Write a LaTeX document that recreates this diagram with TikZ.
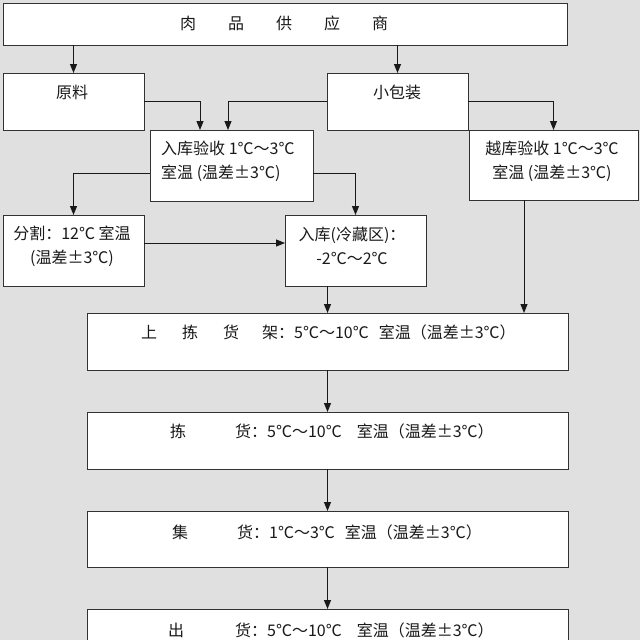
\documentclass[tikz,border=0pt]{standalone}
\usepackage{fontspec}
\setmainfont{Noto Sans CJK SC}
\usetikzlibrary{arrows.meta,calc}
\definecolor{bgc}{RGB}{224,224,224}
\definecolor{boxc}{RGB}{50,50,50}
\definecolor{linec}{RGB}{25,25,25}
\begin{document}
\begin{tikzpicture}[x=1pt,y=-1pt,
  box/.style={draw=boxc, line width=1pt, fill=white, anchor=north west, inner sep=0pt, outer sep=0pt},
  txt/.style={font=\fontsize{16}{24}\selectfont, inner sep=0pt, text=black!90},
  arr/.style={draw=linec, line width=0.9pt, -{Triangle[length=9pt,width=7pt]}}]
\useasboundingbox (0,0) rectangle (640,640);
\clip (0,0) rectangle (640,640);
\fill[bgc] (0,0) rectangle (640,640);
% boxes
\node[box, minimum width=564pt, minimum height=42pt] (top) at (3,3) {};
\node[box, minimum width=141pt, minimum height=57pt] (yl) at (3,73) {};
\node[box, minimum width=141pt, minimum height=57pt] (xbz) at (327,73) {};
\node[box, minimum width=163pt, minimum height=71pt] (rkys) at (150,130) {};
\node[box, minimum width=169pt, minimum height=70pt] (ykys) at (469,130) {};
\node[box, minimum width=141pt, minimum height=71pt] (fg) at (3,215) {};
\node[box, minimum width=141pt, minimum height=71pt] (rkc) at (285,215) {};
\node[box, minimum width=481pt, minimum height=57pt] (sj) at (87,313) {};
\node[box, minimum width=481pt, minimum height=57pt] (jh) at (87,412) {};
\node[box, minimum width=481pt, minimum height=56pt] (jih) at (87,511) {};
\node[box, minimum width=481pt, minimum height=57pt] (ch) at (87,609) {};
% texts
\node[txt] (t0) at (284,23) {肉\hspace{32pt}品\hspace{32pt}供\hspace{32pt}应\hspace{32pt}商};
\node[txt] (t1) at (72,92) {原料};
\node[txt] (t2) at (397,92) {小包装};
\node[txt, anchor=west, align=left] (t3) at (161,161) {入库验收 1℃～3℃\\室温 (温差±3℃)};
\node[txt, align=center] (t4) at (552,161) {越库验收 1℃～3℃\\室温 (温差±3℃)};
\node[txt, align=center] (t5) at (72,246) {分割：12℃ 室温\\(温差±3℃)};
\node[txt, align=center] (t6) at (352,246) {入库(冷藏区)：\\-2℃～2℃};
\node[txt, anchor=west] (t7) at (141,332) {上\hspace{25pt}拣\hspace{25pt}货\hspace{23pt}架：5℃～10℃\hspace{10pt}室温（温差±3℃）};
\node[txt, anchor=west] (t8) at (170,431) {拣\hspace{49pt}货：5℃～10℃\hspace{15pt}室温（温差±3℃）};
\node[txt, anchor=west] (t9) at (172,532) {集\hspace{49pt}货：1℃～3℃\hspace{10pt}室温（温差±3℃）};
\node[txt, anchor=west] (t10) at (168,630) {出\hspace{51pt}货：5℃～10℃\hspace{15pt}室温（温差±3℃）};
% connectors
\draw[arr] (top.south -| yl.north) -- (yl.north);
\draw[arr] (top.south -| xbz.north) -- (xbz.north);
\draw[arr] (yl.east) -| ($(rkys.north)+(-31.5,0)$);
\draw[arr] (xbz.west) -| ($(rkys.north)+(-3.5,0)$);
\draw[arr] (xbz.east) -| (ykys.north);
\draw[arr] ($(rkys.west)+(0,7.5)$) -| (fg.north);
\draw[arr] ($(rkys.east)+(0,7.5)$) -| (rkc.north);
\draw[arr] ($(fg.east)+(0,-7.5)$) -- ($(rkc.west)+(0,-7.5)$);
\draw[arr] (rkc.south -| sj.north) -- (sj.north);
\draw[arr] ($(ykys.south)+(-29.5,0)$) -- ($(sj.north)+(196.5,0)$);
\draw[arr] (sj.south) -- (jh.north);
\draw[arr] (jh.south) -- (jih.north);
\draw[arr] (jih.south) -- (ch.north);
\end{tikzpicture}
\end{document}
